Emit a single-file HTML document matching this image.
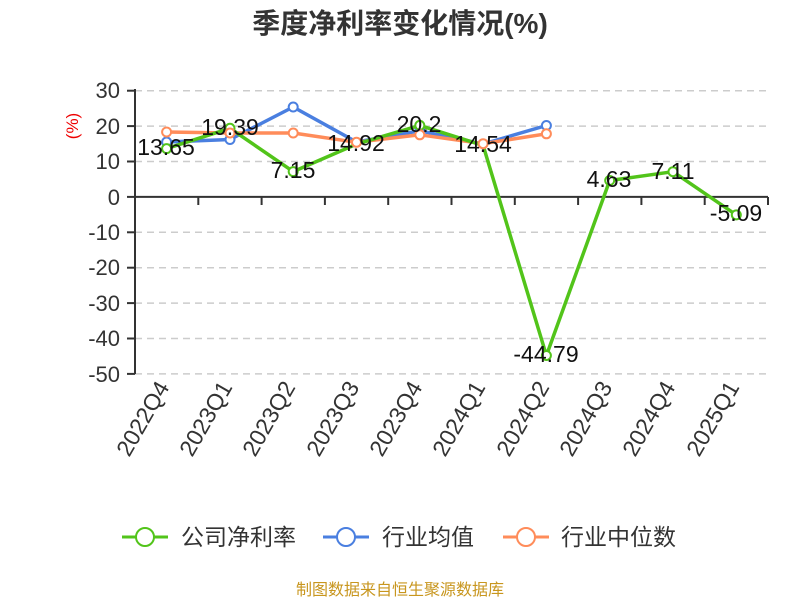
<!DOCTYPE html>
<html><head><meta charset="utf-8"><style>
body{margin:0;background:#fff;}
svg text{font-family:"Liberation Sans","Noto Sans CJK SC",sans-serif;}
</style></head><body>
<svg width="800" height="600" xmlns="http://www.w3.org/2000/svg">
<text x="400" y="33" text-anchor="middle" font-size="28" font-weight="bold" fill="#333">季度净利率变化情况(%)</text>
<text transform="translate(78,126) rotate(-90)" text-anchor="middle" font-size="17" fill="#e00">(%)</text>
<g stroke="#ccc" stroke-width="1.5" stroke-dasharray="7,5">
<line x1="135" y1="90.7" x2="768" y2="90.7"/><line x1="135" y1="126.1" x2="768" y2="126.1"/><line x1="135" y1="161.5" x2="768" y2="161.5"/>
<line x1="135" y1="232.3" x2="768" y2="232.3"/><line x1="135" y1="267.7" x2="768" y2="267.7"/><line x1="135" y1="303.1" x2="768" y2="303.1"/><line x1="135" y1="338.5" x2="768" y2="338.5"/><line x1="135" y1="373.9" x2="768" y2="373.9"/>
</g>
<g font-size="22" fill="#333" text-anchor="end">
<text x="120" y="98">30</text><text x="120" y="134">20</text><text x="120" y="169">10</text><text x="120" y="205">0</text><text x="120" y="240">-10</text><text x="120" y="275">-20</text><text x="120" y="311">-30</text><text x="120" y="346">-40</text><text x="120" y="382">-50</text>
</g>
<g stroke="#333" stroke-width="2">
<line x1="135" y1="89" x2="135" y2="374"/><line x1="127" y1="90.7" x2="135" y2="90.7"/><line x1="127" y1="126.1" x2="135" y2="126.1"/><line x1="127" y1="161.5" x2="135" y2="161.5"/><line x1="127" y1="196.9" x2="135" y2="196.9"/><line x1="127" y1="232.3" x2="135" y2="232.3"/><line x1="127" y1="267.7" x2="135" y2="267.7"/><line x1="127" y1="303.1" x2="135" y2="303.1"/><line x1="127" y1="338.5" x2="135" y2="338.5"/><line x1="127" y1="373.9" x2="135" y2="373.9"/>
<line x1="135" y1="196.9" x2="768" y2="196.9"/>
<line x1="198.3" y1="197" x2="198.3" y2="205"/><line x1="261.6" y1="197" x2="261.6" y2="205"/><line x1="324.9" y1="197" x2="324.9" y2="205"/><line x1="388.2" y1="197" x2="388.2" y2="205"/><line x1="451.5" y1="197" x2="451.5" y2="205"/><line x1="514.8" y1="197" x2="514.8" y2="205"/><line x1="578.1" y1="197" x2="578.1" y2="205"/><line x1="641.4" y1="197" x2="641.4" y2="205"/><line x1="704.7" y1="197" x2="704.7" y2="205"/><line x1="768" y1="197" x2="768" y2="205"/>
</g>
<g font-size="23" fill="#333" text-anchor="end">
<text transform="translate(170,387) rotate(-60)">2022Q4</text>
<text transform="translate(233,387) rotate(-60)">2023Q1</text>
<text transform="translate(296,387) rotate(-60)">2023Q2</text>
<text transform="translate(360,387) rotate(-60)">2023Q3</text>
<text transform="translate(423,387) rotate(-60)">2023Q4</text>
<text transform="translate(486,387) rotate(-60)">2024Q1</text>
<text transform="translate(550,387) rotate(-60)">2024Q2</text>
<text transform="translate(613,387) rotate(-60)">2024Q3</text>
<text transform="translate(676,387) rotate(-60)">2024Q4</text>
<text transform="translate(740,387) rotate(-60)">2025Q1</text>
</g>
<g fill="none" stroke-width="3.5" stroke-linejoin="round">
<polyline stroke="#4a7fe0" points="166.6,142 230,139.5 293.2,107 356.5,142 419.8,130.8 483.1,144 546.4,125.5"/>
<polyline stroke="#ff8c5a" points="166.6,132 230,133 293.2,133 356.5,142.3 419.8,134.8 483.1,143.7 546.4,133.8"/>
<polyline stroke="#52c41a" points="166.6,148.6 230,128.3 293.2,171.6 356.5,144.1 419.8,125.4 483.1,145.4 546.4,355.5 609.7,180.5 673,171.7 736.3,214.9"/>
</g>
<g fill="#fff" stroke-width="2">
<g stroke="#4a7fe0"><circle cx="166.6" cy="142" r="4.5"/><circle cx="230" cy="139.5" r="4.5"/><circle cx="293.2" cy="107" r="4.5"/><circle cx="419.8" cy="130.8" r="4.5"/><circle cx="546.4" cy="125.5" r="4.5"/></g>
<g stroke="#52c41a"><circle cx="166.6" cy="148.6" r="4.5"/><circle cx="230" cy="128.3" r="4.5"/><circle cx="293.2" cy="171.6" r="4.5"/><circle cx="419.8" cy="125.4" r="4.5"/><circle cx="546.4" cy="355.5" r="4.5"/><circle cx="609.7" cy="180.5" r="4.5"/><circle cx="673" cy="171.7" r="4.5"/><circle cx="736.3" cy="214.9" r="4.5"/></g>
<g stroke="#ff8c5a"><circle cx="166.6" cy="132" r="4.5"/><circle cx="230" cy="133" r="4.5"/><circle cx="293.2" cy="133" r="4.5"/><circle cx="356.5" cy="142.3" r="4.5"/><circle cx="419.8" cy="134.8" r="4.5"/><circle cx="483.1" cy="143.7" r="4.5"/><circle cx="546.4" cy="133.8" r="4.5"/></g>
</g>
<g font-size="23" fill="#111" text-anchor="middle">
<text x="166" y="155">13.65</text><text x="230" y="135">19.39</text><text x="293" y="178">7.15</text><text x="356" y="151">14.92</text><text x="419" y="132">20.2</text><text x="483" y="152">14.54</text><text x="546" y="362">-44.79</text><text x="609" y="187">4.63</text><text x="673" y="179">7.11</text><text x="736" y="221">-5.09</text>
</g>
<g font-size="23" fill="#333">
<line x1="122" y1="537" x2="168" y2="537" stroke="#52c41a" stroke-width="3"/><circle cx="145" cy="537" r="9" fill="#fff" stroke="#52c41a" stroke-width="2"/>
<text x="181" y="545">公司净利率</text>
<line x1="323" y1="537" x2="369" y2="537" stroke="#4a7fe0" stroke-width="3"/><circle cx="346" cy="537" r="9" fill="#fff" stroke="#4a7fe0" stroke-width="2"/>
<text x="382" y="545">行业均值</text>
<line x1="503" y1="537" x2="549" y2="537" stroke="#ff8c5a" stroke-width="3"/><circle cx="526" cy="537" r="9" fill="#fff" stroke="#ff8c5a" stroke-width="2"/>
<text x="561" y="545">行业中位数</text>
</g>
<text x="400" y="595" text-anchor="middle" font-size="16" fill="#c8961e">制图数据来自恒生聚源数据库</text>
</svg>
</body></html>
